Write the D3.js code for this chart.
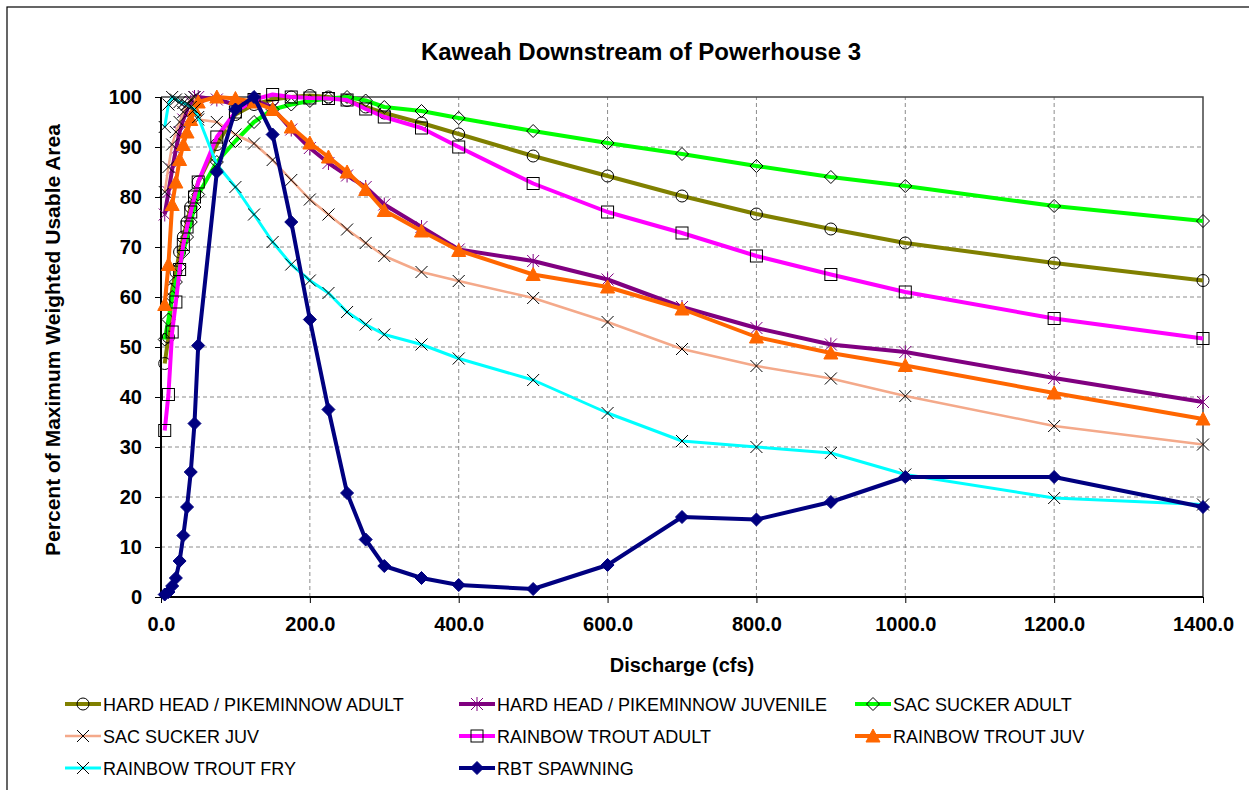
<!DOCTYPE html>
<html>
<head>
<meta charset="utf-8">
<script src="https://cdn.jsdelivr.net/npm/d3@7"></script>
<style>
  body { margin: 0; background: #fff; }
  svg { font-family: "Liberation Sans", Arial, sans-serif; }
</style>
</head>
<body>
<div id="chart"></div>
<script>
// discharge values (cfs), shared by every series
const discharge = [5, 10, 15, 20, 25, 30, 35, 40, 45, 50, 75, 100, 125, 150, 175, 200, 225, 250, 275, 300,
                   350, 400, 500, 600, 700, 800, 900, 1000, 1200, 1400];

const hhAdult  = [46.7, 52, 61.5, 65, 69, 72, 75, 78, 80.5, 83, 90.5, 96.5, 98.5, 99.5, 100, 100.3, 100, 99.3, 98, 96.8,
                  94.8, 92.6, 88.2, 84.2, 80.2, 76.6, 73.6, 70.8, 66.8, 63.3];
const hhJuv    = [76.5, 81, 85.5, 89.5, 93, 95.5, 97.5, 99, 100, 100, 99.5, 98.5, 99.5, 97.8, 93.5, 89.8, 86.8, 84.3, 82, 78.5,
                  74, 69.5, 67.2, 63.5, 58, 53.8, 50.5, 49, 43.8, 39];
const sacAdult = [51.5, 55.5, 60, 63, 66, 69, 72, 75, 78, 80.5, 87, 91.2, 95, 97.5, 98.5, 99.2, 99.7, 100, 99.3, 98,
                  97.2, 95.8, 93.2, 90.8, 88.6, 86.2, 84, 82.2, 78.2, 75.2];
const sacJuv   = [81, 86, 90.5, 93, 95, 97, 98.5, 99.5, 100, 95.5, 95, 92.5, 90.7, 87.4, 83.4, 79.5, 76.5, 73.5, 70.8, 68.2,
                  65, 63.2, 59.8, 55, 49.6, 46.2, 43.7, 40.2, 34.2, 30.5];
const rtAdult  = [33.3, 40.5, 53, 59, 65.5, 70.5, 74, 77, 80, 83, 92, 97, 99.5, 100.5, 100, 99.8, 99.7, 99.4, 97.6, 96,
                  93.8, 90, 82.7, 77, 72.8, 68.2, 64.5, 61, 55.7, 51.7];
const rtJuv    = [58.5, 66.5, 78.5, 83, 87.5, 90.5, 93, 95.5, 97.5, 99, 100, 99.7, 99, 97.5, 94, 90.8, 88, 85, 81.5, 77.3,
                  73.2, 69.3, 64.5, 62, 57.6, 52, 48.8, 46.3, 40.8, 35.6];
const rtFry    = [94, 98.5, 100, 99.5, 99, 98.8, 98.5, 98, 97.5, 96, 86.5, 82, 76.5, 71, 66.5, 63.3, 60.8, 57, 54.5, 52.5,
                  50.5, 47.7, 43.4, 36.8, 31.2, 30, 28.8, 24.5, 19.8, 18.5];
const rbtSpawn = [0.5, 1, 2.2, 3.8, 7.2, 12.3, 18, 25, 34.7, 50.3, 85, 97.5, 100, 92.5, 75, 55.5, 37.5, 20.8, 11.5, 6.2,
                  3.8, 2.4, 1.6, 6.4, 16, 15.5, 19, 24, 24, 18];

const xTicks = [0, 200, 400, 600, 800, 1000, 1200, 1400];
const yTicks = [0, 10, 20, 30, 40, 50, 60, 70, 80, 90, 100];

// series: name, values, line colour, line width, marker type, marker stroke, marker fill
const series = [
  {name: "HARD HEAD / PIKEMINNOW ADULT", values: hhAdult, color: "#808000", w: 4, marker: "circle", ms: "#000", mf: "none"},
  {name: "HARD HEAD / PIKEMINNOW JUVENILE", values: hhJuv, color: "#800080", w: 4, marker: "asterisk", ms: "#800080", mf: "none"},
  {name: "SAC SUCKER ADULT", values: sacAdult, color: "#00ff00", w: 4, marker: "diamond", ms: "#000", mf: "none"},
  {name: "SAC SUCKER JUV", values: sacJuv, color: "#f4a98a", w: 2.5, marker: "x", ms: "#000", mf: "none"},
  {name: "RAINBOW TROUT ADULT", values: rtAdult, color: "#ff00ff", w: 4, marker: "square", ms: "#000", mf: "none"},
  {name: "RAINBOW TROUT JUV", values: rtJuv, color: "#ff6600", w: 4, marker: "triangle", ms: "#ff6600", mf: "#ff6600"},
  {name: "RAINBOW TROUT FRY", values: rtFry, color: "#00ffff", w: 3, marker: "x", ms: "#000", mf: "none"},
  {name: "RBT SPAWNING", values: rbtSpawn, color: "#000080", w: 4, marker: "diamond", ms: "#000080", mf: "#000080"}
];

const width = 1249, height = 790;
const margin = {left: 161, right: 46, top: 97, bottom: 193};

const svg = d3.select("#chart").append("svg")
  .attr("width", width)
  .attr("height", height);

// chart frame
svg.append("rect")
  .attr("x", 7).attr("y", 7)
  .attr("width", 1300).attr("height", 900)
  .attr("fill", "#fff")
  .attr("stroke", "#000")
  .attr("stroke-width", 1.2);

const x = d3.scaleLinear().domain([0, 1400]).range([margin.left, width - margin.right]);
const y = d3.scaleLinear().domain([0, 100]).range([height - margin.bottom, margin.top]);

// grid
svg.append("g")
  .selectAll("line")
  .data(yTicks.slice(1, -1))
  .join("line")
  .attr("x1", x(0)).attr("x2", x(1400))
  .attr("y1", d => y(d)).attr("y2", d => y(d))
  .attr("stroke", "#8c8c8c")
  .attr("stroke-dasharray", "4,3");

svg.append("g")
  .selectAll("line")
  .data(xTicks.slice(1, -1))
  .join("line")
  .attr("x1", d => x(d)).attr("x2", d => x(d))
  .attr("y1", y(0)).attr("y2", y(100))
  .attr("stroke", "#8c8c8c")
  .attr("stroke-dasharray", "4,3");

// plot area border (top and right)
svg.append("path")
  .attr("d", `M${x(0)},${y(100)}H${x(1400)}V${y(0)}`)
  .attr("fill", "none")
  .attr("stroke", "#444")
  .attr("stroke-width", 1.5);

// axes
const xAxis = svg.append("g")
  .attr("transform", `translate(0,${y(0)})`)
  .call(d3.axisBottom(x).tickValues(xTicks).tickFormat(d3.format(".1f")).tickSize(6).tickPadding(14));
const yAxis = svg.append("g")
  .attr("transform", `translate(${x(0)},0)`)
  .call(d3.axisLeft(y).tickValues(yTicks).tickSize(6).tickPadding(13));

[xAxis, yAxis].forEach(a => {
  a.select(".domain").attr("stroke", "#000").attr("stroke-width", 2);
  a.selectAll(".tick line").attr("stroke", "#000");
  a.selectAll("text")
    .attr("fill", "#000")
    .style("font-family", "Liberation Sans, Arial, sans-serif")
    .style("font-size", "20px")
    .style("font-weight", "bold");
});
yAxis.select(".domain").attr("d", `M0,${y(0)}V${y(100)}`);
xAxis.select(".domain").attr("d", `M${x(0)},0H${x(1400)}`);

// titles
svg.append("text")
  .attr("x", 641).attr("y", 60)
  .attr("text-anchor", "middle")
  .style("font-size", "24px")
  .style("font-weight", "bold")
  .text("Kaweah Downstream of Powerhouse 3");

svg.append("text")
  .attr("x", 682).attr("y", 672)
  .attr("text-anchor", "middle")
  .style("font-size", "20px")
  .style("font-weight", "bold")
  .text("Discharge (cfs)");

svg.append("text")
  .attr("transform", `translate(60,${(y(0) + y(100)) / 2 - 7}) rotate(-90)`)
  .attr("text-anchor", "middle")
  .style("font-size", "21px")
  .style("font-weight", "bold")
  .text("Percent of Maximum Weighted Usable Area");

// markers
function drawMarker(g, type, stroke, fill) {
  if (type === "circle") {
    g.append("circle").attr("r", 6).attr("fill", fill).attr("stroke", stroke).attr("stroke-width", 1);
  } else if (type === "square") {
    g.append("rect").attr("x", -6).attr("y", -6).attr("width", 12).attr("height", 12)
      .attr("fill", fill).attr("stroke", stroke).attr("stroke-width", 1);
  } else if (type === "diamond") {
    g.append("path").attr("d", "M0,-6.5L6.5,0L0,6.5L-6.5,0Z")
      .attr("fill", fill).attr("stroke", stroke).attr("stroke-width", 1);
  } else if (type === "triangle") {
    g.append("path").attr("d", "M0,-7L7,6L-7,6Z")
      .attr("fill", fill).attr("stroke", stroke).attr("stroke-width", 1);
  } else if (type === "x") {
    g.append("path").attr("d", "M-6,-6L6,6M-6,6L6,-6")
      .attr("stroke", stroke).attr("stroke-width", 1);
  } else if (type === "asterisk") {
    g.append("path").attr("d", "M-6,-6L6,6M-6,6L6,-6M0,-7V7")
      .attr("stroke", stroke).attr("stroke-width", 1);
  }
}

const line = d3.line()
  .x((d, i) => x(discharge[i]))
  .y(d => y(d));

series.forEach(s => {
  const g = svg.append("g");
  g.append("path")
    .datum(s.values)
    .attr("fill", "none")
    .attr("stroke", s.color)
    .attr("stroke-width", s.w)
    .attr("stroke-linejoin", "round")
    .attr("d", line);
  g.selectAll("g.m")
    .data(s.values)
    .join("g")
    .attr("class", "m")
    .attr("transform", (d, i) => `translate(${x(discharge[i])},${y(d)})`)
    .each(function () { drawMarker(d3.select(this), s.marker, s.ms, s.mf); });
});

// legend
const legCols = [65, 459, 855];
const legRows = [704, 736, 768];
const legend = svg.append("g");
series.forEach((s, i) => {
  const lx = legCols[i % 3], ly = legRows[Math.floor(i / 3)];
  const item = legend.append("g").attr("transform", `translate(${lx},${ly})`);
  item.append("line")
    .attr("x1", 0).attr("x2", 36)
    .attr("stroke", s.color)
    .attr("stroke-width", s.w);
  const m = item.append("g").attr("transform", "translate(18,0)");
  drawMarker(m, s.marker, s.ms, s.mf);
  item.append("text")
    .attr("x", 38).attr("y", 6.5)
    .style("font-size", "18px")
    .text(s.name);
});
</script>
</body>
</html>
